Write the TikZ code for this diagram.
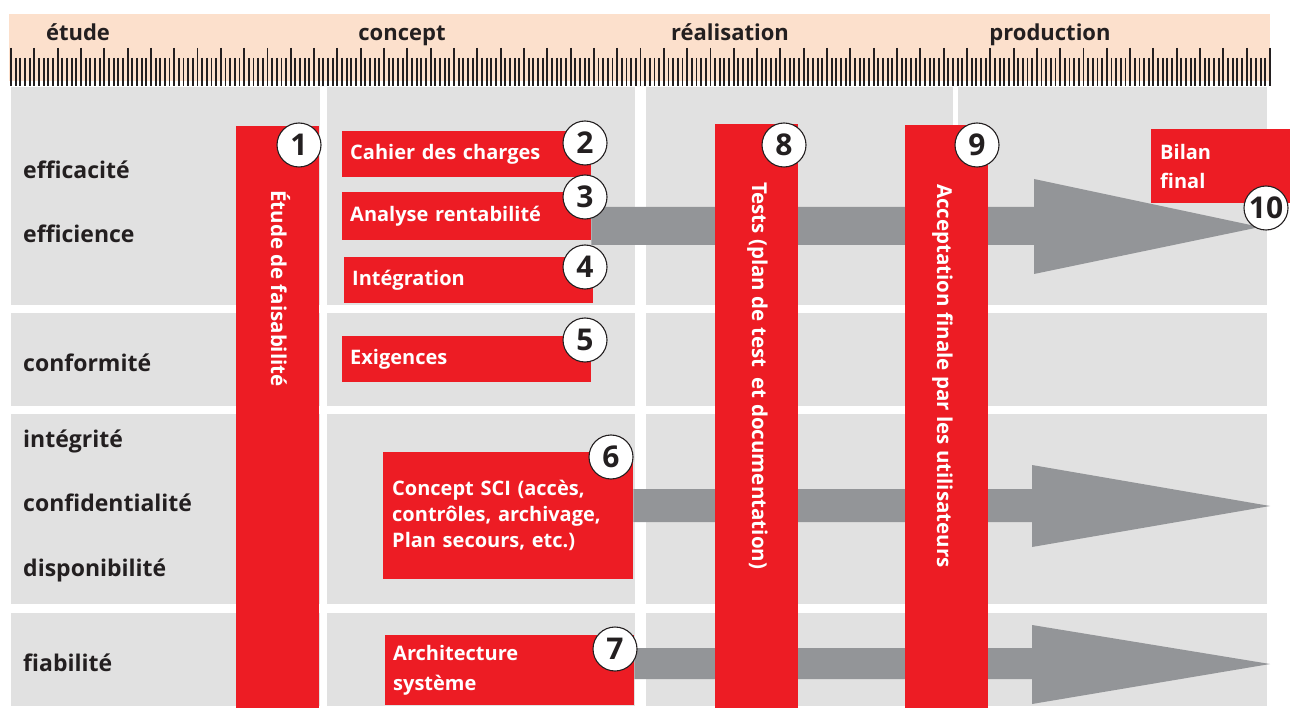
\documentclass[tikz,border=0pt]{standalone}
\usepackage{fontspec}
\setmainfont{Open Sans}
\usetikzlibrary{calc}
\definecolor{redbar}{HTML}{ED1C24}
\definecolor{cellgray}{HTML}{E1E1E1}
\definecolor{peach}{HTML}{FCE0CC}
\definecolor{arrowgray}{HTML}{939598}
\definecolor{ink}{HTML}{231F20}
\pgfdeclarelayer{bg}
\pgfsetlayers{bg,main}
\tikzset{
  cell/.style={fill=cellgray, draw=none},
  redfill/.style={fill=redbar, draw=none, inner sep=0pt, anchor=north west},
  redbox/.style={fill=redbar, draw=none, text=white, align=left,
    inner xsep=8pt, inner ysep=0pt, anchor=north west,
    font=\fontsize{20}{27}\selectfont\bfseries},
  num/.style={circle, draw=ink, line width=1.1pt, fill=white, minimum size=44pt,
    inner sep=0pt, text=ink, font=\fontsize{30}{30}\selectfont\bfseries},
  rowlabel/.style={anchor=base west, text=ink, inner sep=0pt,
    font=\fontsize{23}{23}\selectfont\bfseries},
  phase/.style={anchor=base, text=ink, inner sep=0pt,
    font=\fontsize{22}{22}\selectfont\bfseries},
  vtext/.style={rotate=-90, anchor=base west, text=white, inner sep=0pt,
    font=\fontsize{20.5}{20.5}\selectfont\bfseries},
  tick/.style={draw=ink, line width=1.9pt},
  blockarrow/.style={fill=arrowgray, draw=none},
}
\begin{document}
\begin{tikzpicture}[x=1pt,y=-1pt]
\useasboundingbox (0,0) rectangle (1290,708);

% page ground and grid of cells
\begin{pgfonlayer}{bg}
\fill[white] (0,0) rectangle (1290,708);
\foreach \xa/\xb in {11/320, 327/635, 646/953, 958/1267}{
  \foreach \ya/\yb in {87/305, 313/406, 414/604, 613/706}{
    \fill[cell] (\xa,\ya) rectangle (\xb,\yb);
  }
}
\end{pgfonlayer}

% header band with the phases and the ruler
\fill[peach] (9,14) rectangle (1270,81);
\node[phase] (ph1) at (78,41) {étude};
\node[phase] (ph2) at (402,41) {concept};
\node[phase] (ph3) at (730,41) {réalisation};
\node[phase] (ph4) at (1050,41) {production};
\foreach \i in {0,...,270}{
  \pgfmathsetmacro{\tx}{11+4.663*\i}
  \pgfmathtruncatemacro{\m}{mod(\i,5)}
  \ifnum\m=0
    \draw[tick] (\tx,48) -- (\tx,86);
  \else
    \draw[tick] (\tx,58) -- (\tx,86);
  \fi
}

% row labels
\node[rowlabel] (r1) at (23,179) {efficacité};
\node[rowlabel] (r2) at (23,243) {efficience};
\node[rowlabel] (r3) at (23,371) {conformité};
\node[rowlabel] (r4) at (23,447) {intégrité};
\node[rowlabel] (r5) at (23,511) {confidentialité};
\node[rowlabel] (r6) at (23,576) {disponibilité};
\node[rowlabel] (r7) at (23,671) {fiabilité};

% vertical bars
\node[redfill, minimum width=83pt, minimum height=582pt] (b1) at (236,126) {};
\node[redfill, minimum width=83pt, minimum height=584pt] (b8) at (715,124) {};
\node[redfill, minimum width=83pt, minimum height=583pt] (b9) at (905,125) {};
\node[vtext] (t1) at (271,190) {Étude de faisabilité};
\node[vtext] (t8) at (752,182) {Tests (plan de test~ et documentation)};
\node[vtext] (t9) at (937,184) {Acceptation finale par les utilisateurs};

% task boxes
\node[redbox, minimum height=46pt, text width=233pt] (b2) at (342,131) {Cahier des charges};
\node[redbox, minimum height=48pt, text width=233pt] (b3) at (342,192) {Analyse rentabilité};
\node[redbox, minimum height=46pt, text width=233pt] (b4) at (344,257) {Intégration};
\node[redbox, minimum height=46pt, text width=233pt] (b5) at (342,336) {Exigences};
\node[redbox, minimum height=127pt, text width=232pt, inner xsep=9pt,
  font=\fontsize{20}{26}\selectfont\bfseries] (b6) at (383,452)
  {Concept SCI (accès,\\contrôles, archivage,\\Plan secours, etc.)};
\node[redbox, minimum height=70pt, text width=233pt,
  font=\fontsize{20}{30}\selectfont\bfseries] (b7) at (385,635)
  {Architecture\\système};
\node[redbox, minimum height=74pt, text width=121pt, inner xsep=9pt,
  font=\fontsize{20}{29}\selectfont\bfseries] (b10) at (1151,129)
  {Bilan\\final};

% block arrows running behind the bars
\begin{pgfonlayer}{bg}
\fill[blockarrow] (b3.east |- 0,207) -- (1034,207) -- (1034,179) -- (1260,227)
  -- (1034,274) -- (1034,245) -- (b3.east |- 0,245) -- cycle;
\fill[blockarrow] (b6.east |- 0,489) -- (1032,489) -- (1032,465) -- (1270,506)
  -- (1032,547) -- (1032,522) -- (b6.east |- 0,522) -- cycle;
\fill[blockarrow] (b7.east |- 0,648) -- (1032,648) -- (1032,625) -- (1270,664)
  -- (1032,704) -- (1032,679) -- (b7.east |- 0,679) -- cycle;
\end{pgfonlayer}

% step numbers
\node[num] (n1) at (299,145) {1};
\node[num] (n2) at (585,143) {2};
\node[num] (n3) at (585,197) {3};
\node[num] (n4) at (585,267) {4};
\node[num] (n5) at (585,340) {5};
\node[num] (n6) at (611,457) {6};
\node[num] (n7) at (615,649) {7};
\node[num] (n8) at (784,145) {8};
\node[num] (n9) at (977,145) {9};
\node[num] (n10) at (1266,208) {10};
\end{tikzpicture}
\end{document}
